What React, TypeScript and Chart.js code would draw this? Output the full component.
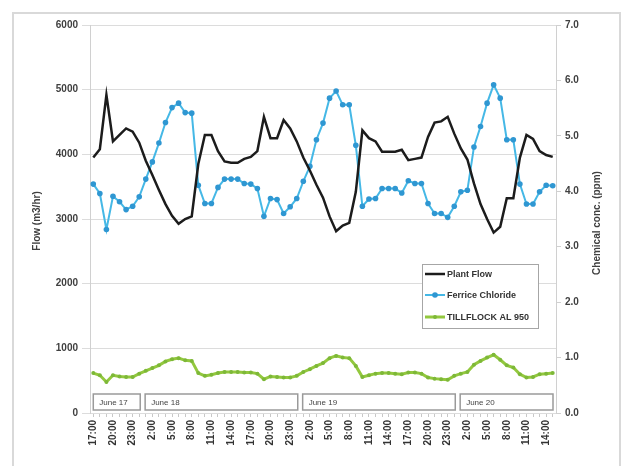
import React, { useEffect, useRef } from "react";
import { Chart, registerables } from "chart.js";

Chart.register(...registerables);

// Hourly categories, 17:00 June 17 to 15:00 June 20
const hours = [
  "17:00", "18:00", "19:00", "20:00", "21:00", "22:00", "23:00",
  "0:00", "1:00", "2:00", "3:00", "4:00", "5:00", "6:00", "7:00", "8:00", "9:00", "10:00", "11:00",
  "12:00", "13:00", "14:00", "15:00", "16:00", "17:00", "18:00", "19:00", "20:00", "21:00", "22:00", "23:00",
  "0:00", "1:00", "2:00", "3:00", "4:00", "5:00", "6:00", "7:00", "8:00", "9:00", "10:00", "11:00",
  "12:00", "13:00", "14:00", "15:00", "16:00", "17:00", "18:00", "19:00", "20:00", "21:00", "22:00", "23:00",
  "0:00", "1:00", "2:00", "3:00", "4:00", "5:00", "6:00", "7:00", "8:00", "9:00", "10:00", "11:00",
  "12:00", "13:00", "14:00", "15:00",
];

const dayNames = ["June 17", "June 18", "June 19", "June 20"];

const plantFlow = [
  3950, 4080, 4920, 4200, 4300, 4400, 4350,
  4180, 3900, 3680, 3450, 3230, 3050, 2925, 3000, 3040, 3850, 4300, 4300,
  4050, 3890, 3870, 3870, 3930, 3960, 4050, 4580, 4250, 4250, 4530, 4400,
  4200, 3950, 3750, 3530, 3330, 3040, 2810, 2900, 2940, 3420, 4370, 4250,
  4200, 4040, 4040, 4040, 4070, 3910, 3930, 3950, 4270, 4490, 4510, 4580,
  4320, 4090, 3920, 3550, 3230, 3000, 2790, 2880, 3320, 3320, 3950, 4300,
  4240, 4050, 3990, 3960,
];

const ferricChloride = [
  4.13, 3.96, 3.31, 3.91, 3.81, 3.67, 3.73,
  3.90, 4.22, 4.53, 4.87, 5.24, 5.51, 5.59, 5.42, 5.41, 4.11, 3.78, 3.78,
  4.07, 4.22, 4.22, 4.22, 4.14, 4.13, 4.05, 3.55, 3.87, 3.85, 3.60, 3.72,
  3.87, 4.18, 4.45, 4.93, 5.23, 5.68, 5.81, 5.56, 5.56, 4.83, 3.73, 3.86,
  3.87, 4.05, 4.05, 4.05, 3.97, 4.19, 4.14, 4.14, 3.78, 3.60, 3.60, 3.53,
  3.73, 3.99, 4.02, 4.80, 5.17, 5.59, 5.92, 5.68, 4.93, 4.93, 4.13, 3.77,
  3.77, 3.99, 4.11, 4.10,
];

const tillflock = [
  0.72, 0.68, 0.56, 0.68, 0.66, 0.65, 0.65,
  0.71, 0.76, 0.81, 0.86, 0.93, 0.97, 0.99, 0.95, 0.94, 0.72, 0.67, 0.69,
  0.72, 0.74, 0.74, 0.74, 0.73, 0.73, 0.71, 0.61, 0.66, 0.65, 0.64, 0.64,
  0.67, 0.74, 0.79, 0.85, 0.90, 0.99, 1.03, 1.00, 0.99, 0.85, 0.65, 0.68,
  0.71, 0.72, 0.72, 0.71, 0.70, 0.73, 0.73, 0.71, 0.64, 0.62, 0.61, 0.60,
  0.67, 0.71, 0.74, 0.87, 0.94, 1.00, 1.05, 0.96, 0.86, 0.82, 0.70, 0.64,
  0.65, 0.70, 0.71, 0.72,
];

const seriesNames = ["Plant Flow", "Ferrice Chloride", "TILLFLOCK AL 950"];
const leftTitle = "Flow (m3/hr)";
const rightTitle = "Chemical conc. (ppm)";

const FONT = "'Liberation Sans', Arial, sans-serif";
const BLACK = "#1c1c1c";
const BLUE_LINE = "#45b8e6";
const BLUE_PT = "#2f97d2";
const GREEN_LINE = "#93c83e";
const GREEN_PT = "#7db838";

const decorPlugin = {
  id: "decor",
  afterDatasetsDraw(chart: any) {
    const { ctx, chartArea, scales } = chart;
    const x = scales.x;
    const step = x.getPixelForValue(1) - x.getPixelForValue(0);

    // day boxes
    const starts: number[] = [0];
    hours.forEach((h, i) => {
      if (i > 0 && h === "0:00") starts.push(i);
    });
    ctx.save();
    ctx.font = `8px ${FONT}`;
    ctx.textBaseline = "middle";
    ctx.textAlign = "left";
    const boxTop = chartArea.bottom - 19;
    const boxH = 16;
    starts.forEach((s, d) => {
      const next = d + 1 < starts.length ? starts[d + 1] : hours.length;
      const left = d === 0 ? x.getPixelForValue(0) : x.getPixelForValue(s) + step * 0.9;
      const right =
        d + 1 < starts.length ? x.getPixelForValue(next) + 1 : chartArea.right - 3;
      ctx.fillStyle = "#ffffff";
      ctx.fillRect(left, boxTop, right - left, boxH);
      ctx.strokeStyle = "#9a9a9a";
      ctx.lineWidth = 1.5;
      ctx.strokeRect(left, boxTop, right - left, boxH);
      ctx.fillStyle = "#444";
      ctx.fillText(dayNames[d], left + 6, boxTop + boxH / 2 + 1);
    });
    ctx.restore();

    // legend
    ctx.save();
    const lx = chartArea.right - 134;
    const ly = chartArea.top + 239;
    const lw = 116;
    const lh = 64;
    ctx.fillStyle = "#ffffff";
    ctx.fillRect(lx, ly, lw, lh);
    ctx.strokeStyle = "#a6a6a6";
    ctx.lineWidth = 1;
    ctx.strokeRect(lx + 0.5, ly + 0.5, lw, lh);
    ctx.font = `bold 9px ${FONT}`;
    ctx.textBaseline = "middle";
    ctx.textAlign = "left";
    const rows = [10, 31, 53];
    const colors = [BLACK, BLUE_LINE, GREEN_LINE];
    const widths = [2.5, 2, 3];
    const pts = [null, BLUE_PT, GREEN_PT];
    rows.forEach((ry, k) => {
      const yy = ly + ry;
      ctx.strokeStyle = colors[k];
      ctx.lineWidth = widths[k];
      ctx.beginPath();
      ctx.moveTo(lx + 3, yy);
      ctx.lineTo(lx + 23, yy);
      ctx.stroke();
      if (pts[k]) {
        ctx.fillStyle = pts[k] as string;
        ctx.beginPath();
        ctx.arc(lx + 13, yy, k === 1 ? 2.8 : 2, 0, Math.PI * 2);
        ctx.fill();
      }
      ctx.fillStyle = "#333";
      ctx.fillText(seriesNames[k], lx + 25, yy + 0.5);
    });
    ctx.restore();

    // axis titles
    ctx.save();
    ctx.font = `bold 10px ${FONT}`;
    ctx.fillStyle = "#404040";
    ctx.textAlign = "center";
    ctx.textBaseline = "middle";
    const cy = (chartArea.top + chartArea.bottom) / 2 + 2;
    ctx.translate(37, cy);
    ctx.rotate(-Math.PI / 2);
    ctx.fillText(leftTitle, 0, 0);
    ctx.restore();
    ctx.save();
    ctx.font = `bold 10px ${FONT}`;
    ctx.fillStyle = "#404040";
    ctx.textAlign = "center";
    ctx.textBaseline = "middle";
    ctx.translate(597, cy + 2);
    ctx.rotate(-Math.PI / 2);
    ctx.fillText(rightTitle, 0, 0);
    ctx.restore();
  },
};

export default function App() {
  const ref = useRef<HTMLCanvasElement | null>(null);

  useEffect(() => {
    if (!ref.current) return;
    const chart = new Chart(ref.current, {
      type: "line",
      data: {
        labels: hours,
        datasets: [
          {
            label: seriesNames[0],
            data: plantFlow,
            yAxisID: "y",
            borderColor: BLACK,
            borderWidth: 2.5,
            pointRadius: 0,
            tension: 0,
            order: 1,
          },
          {
            label: seriesNames[1],
            data: ferricChloride,
            yAxisID: "y1",
            borderColor: BLUE_LINE,
            borderWidth: 2,
            pointRadius: 2.8,
            pointBackgroundColor: BLUE_PT,
            pointBorderColor: BLUE_PT,
            pointBorderWidth: 0,
            tension: 0,
            order: 2,
          },
          {
            label: seriesNames[2],
            data: tillflock,
            yAxisID: "y1",
            borderColor: GREEN_LINE,
            borderWidth: 3,
            pointRadius: 2,
            pointBackgroundColor: GREEN_PT,
            pointBorderColor: GREEN_PT,
            pointBorderWidth: 0,
            tension: 0,
            order: 3,
          },
        ],
      },
      options: {
        responsive: false,
        animation: false,
        devicePixelRatio: 1,
        layout: { padding: { top: 25, left: 0, right: 0, bottom: 0 } },
        plugins: {
          legend: { display: false },
          tooltip: { enabled: false },
          title: { display: false },
        },
        scales: {
          x: {
            type: "category",
            offset: true,
            grid: {
              display: true,
              drawOnChartArea: false,
              drawTicks: true,
              tickLength: 4,
              color: "#c8c8c8",
              offset: false,
            },
            border: { display: false },
            ticks: {
              autoSkip: false,
              minRotation: 90,
              maxRotation: 90,
              padding: 3,
              color: "#333",
              font: { family: FONT, size: 10, weight: "bold" },
              callback: (_v: any, i: number) => (i % 3 === 0 ? hours[i] : ""),
            },
            afterFit: (s: any) => {
              s.height = 53;
            },
          },
          y: {
            position: "left",
            min: 0,
            max: 6000,
            ticks: {
              stepSize: 1000,
              padding: 4,
              color: "#404040",
              font: { family: FONT, size: 10, weight: "bold" },
              callback: (v: any) => String(v),
            },
            grid: { color: "#dcdcdc", tickLength: 8, lineWidth: 1 },
            border: { display: true, color: "#d0d0d0" },
            afterFit: (s: any) => {
              s.width = 90;
            },
          },
          y1: {
            position: "right",
            min: 0,
            max: 7,
            ticks: {
              stepSize: 1,
              padding: 4,
              color: "#404040",
              font: { family: FONT, size: 10, weight: "bold" },
              callback: (v: any) => Number(v).toFixed(1),
            },
            grid: { drawOnChartArea: false, color: "#d0d0d0", tickLength: 5 },
            border: { display: true, color: "#d0d0d0" },
            afterFit: (s: any) => {
              s.width = 69;
            },
          },
        },
      },
      plugins: [decorPlugin],
    });
    return () => chart.destroy();
  }, []);

  return (
    <div style={{ position: "absolute", left: 0, top: 0, width: 625, height: 466, background: "#fff" }}>
      <div
        style={{
          position: "absolute",
          left: 12,
          top: 12,
          width: 605,
          height: 452,
          borderTop: "2px solid #d9d9d9",
          borderLeft: "2px solid #d9d9d9",
          borderRight: "2px solid #d9d9d9",
        }}
      />
      <canvas ref={ref} width={625} height={466} style={{ position: "absolute", left: 0, top: 0, width: 625, height: 466 }} />
    </div>
  );
}
